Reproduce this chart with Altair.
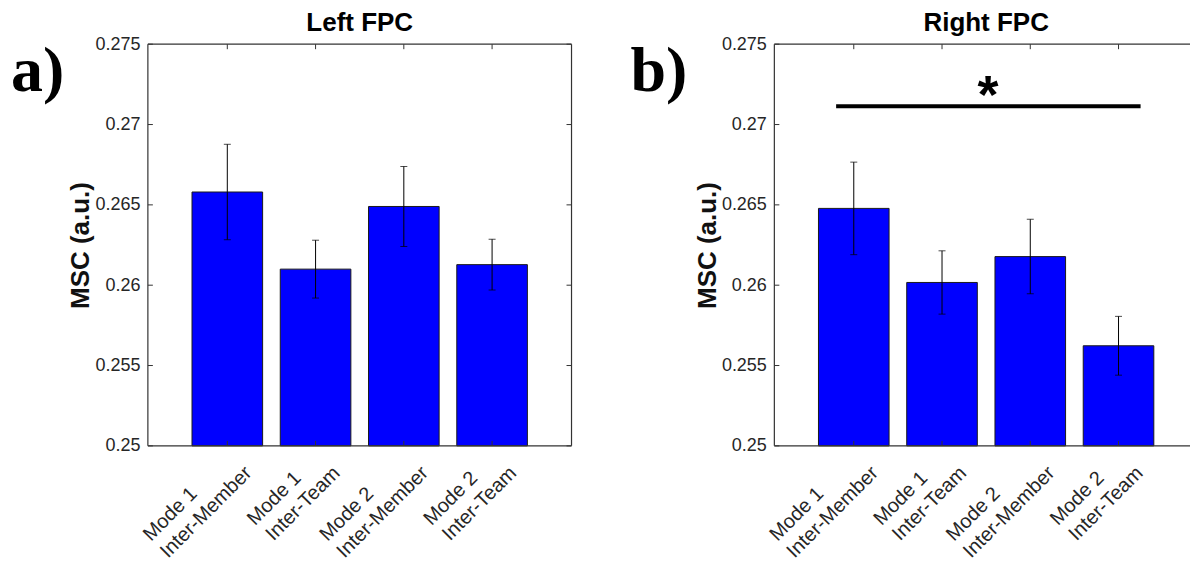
import altair as alt
import pandas as pd

# ---------------- data ----------------
positions = [1, 2, 3, 4]
label_line1 = ["Mode 1", "Mode 1", "Mode 2", "Mode 2"]
label_line2 = ["Inter-Member", "Inter-Team", "Inter-Member", "Inter-Team"]
left_means = [0.2658, 0.2610, 0.2649, 0.26128]
left_sem = [0.00297, 0.0018, 0.00249, 0.00158]
right_means = [0.26478, 0.26017, 0.26178, 0.25623]
right_sem = [0.00288, 0.00197, 0.00232, 0.00183]
y_domain = [0.25, 0.275]
y_ticks = [0.25, 0.255, 0.26, 0.265, 0.27, 0.275]
panel_titles = ["Left FPC", "Right FPC"]
panel_letters = ["a)", "b)"]
y_title = "MSC (a.u.)"
sig_bar_x = [0.8, 4.25]
sig_bar_y = [0.27114]
sig_star_x = [2.52]
sig_text = ["*"]

# ---------------- style / layout ----------------
FONT = "Liberation Sans"
SERIF = "Liberation Serif"
PH = 402
LEFT_W, RIGHT_W = 424, 416
X_DOM_LEFT = [0.1, 4.9]
X_DOM_RIGHT = [0.1, 4.81]
AXIS_COLOR = "#333333"
TEXT_COLOR = "#262626"
XLAB_FS = 20

# Arial / Liberation Sans advance widths (per 1000 em) for label layout
CHAR_W = {"I": 278, "n": 556, "t": 278, "e": 556, "r": 333, "-": 333, "M": 833,
          "m": 833, "b": 556, "T": 611, "a": 556, "o": 556, "d": 556, " ": 278,
          "1": 556, "2": 556}


def text_width(s, fs):
    return sum(CHAR_W.get(c, 556) for c in s) / 1000.0 * fs


def y_axis():
    return alt.Axis(
        values=y_ticks, format="~g", domain=False, ticks=False, tickSize=0,
        grid=False, labelFont=FONT, labelFontSize=18, labelColor=TEXT_COLOR,
        labelPadding=8, title=y_title, titleFont=FONT, titleFontSize=26,
        titleFontWeight="bold", titleColor="#111111", titleAngle=270,
        titleX=-67, titleY=PH / 2, titleAlign="center", titleBaseline="middle")


def panel(means, sems, title, letter, width, x_dom, right_edge, sig=False):
    starts = [-2 - max(text_width(a, XLAB_FS), text_width(b, XLAB_FS))
              for a, b in zip(label_line1, label_line2)]
    df = pd.DataFrame({"pos": positions, "value": means, "err": sems,
                       "line1": label_line1, "line2": label_line2, "start": starts})
    xs = alt.Scale(domain=x_dom, nice=False, zero=False)
    ys = alt.Scale(domain=y_domain, nice=False, zero=False)

    def Y(field):
        return alt.Y(field, scale=ys, axis=y_axis())

    def X(field):
        return alt.X(field, scale=xs, axis=None)

    base = alt.Chart(df).transform_calculate(
        xa="datum.pos - 0.4", xb="datum.pos + 0.4",
        lo="datum.value - datum.err", hi="datum.value + datum.err",
        base=str(y_domain[0]))

    bars = base.mark_bar(color="#0000FF", stroke="#1a1a1a", strokeWidth=1).encode(
        x=X("xa:Q"), x2="xb:Q", y=Y("value:Q"), y2="base:Q")
    err = base.mark_rule(color="black", strokeWidth=1).encode(
        x=X("pos:Q"), y=Y("lo:Q"), y2="hi:Q")
    cap_hi = base.mark_tick(orient="horizontal", size=7, thickness=1, color="black").encode(
        x=X("pos:Q"), y=Y("hi:Q"))
    cap_lo = base.mark_tick(orient="horizontal", size=7, thickness=1, color="black").encode(
        x=X("pos:Q"), y=Y("lo:Q"))

    # inward tick marks
    tdf = pd.DataFrame({"t": y_ticks})
    ytick_l = alt.Chart(tdf).mark_rule(color=AXIS_COLOR, strokeWidth=1).encode(
        y=Y("t:Q"), x=alt.value(0), x2=alt.value(5))
    xtick_b = base.mark_rule(color=AXIS_COLOR, strokeWidth=1).encode(
        x=X("pos:Q"), y=alt.value(PH), y2=alt.value(PH - 5))
    xtick_t = base.mark_rule(color=AXIS_COLOR, strokeWidth=1).encode(
        x=X("pos:Q"), y=alt.value(0), y2=alt.value(5))

    one = pd.DataFrame({"k": [0]})
    box = [
        alt.Chart(one).mark_rule(color=AXIS_COLOR, strokeWidth=1.2).encode(
            x=alt.value(0), y=alt.value(0), y2=alt.value(PH)),
        alt.Chart(one).mark_rule(color=AXIS_COLOR, strokeWidth=1.2).encode(
            x=alt.value(0), x2=alt.value(width), y=alt.value(PH)),
        alt.Chart(one).mark_rule(color=AXIS_COLOR, strokeWidth=1.2).encode(
            x=alt.value(0), x2=alt.value(width), y=alt.value(0)),
    ]
    extra = []
    if right_edge:
        box.append(alt.Chart(one).mark_rule(color=AXIS_COLOR, strokeWidth=1.2).encode(
            x=alt.value(width), y=alt.value(0), y2=alt.value(PH)))
        extra.append(alt.Chart(tdf).mark_rule(color=AXIS_COLOR, strokeWidth=1).encode(
            y=Y("t:Q"), x=alt.value(width - 5), x2=alt.value(width)))

    # rotated two-line category labels
    lab2 = base.mark_text(angle=315, align="right", baseline="alphabetic", dx=-2, dy=38,
                          font=FONT, fontSize=XLAB_FS, color=TEXT_COLOR).encode(
        x=X("pos:Q"), y=alt.value(PH), text="line2:N")
    lab1 = base.mark_text(angle=315, align="left", baseline="alphabetic",
                          dx=alt.ExprRef(expr="datum.start"), dy=14,
                          font=FONT, fontSize=XLAB_FS, color=TEXT_COLOR).encode(
        x=X("pos:Q"), y=alt.value(PH), text="line1:N")

    ttl = alt.Chart(pd.DataFrame({"t": [title]})).mark_text(
        font=FONT, fontSize=26, fontWeight="bold", align="center", baseline="alphabetic",
        color="black").encode(text="t:N", x=alt.value(212), y=alt.value(-13))
    let_x = -137 if not sig else -144
    let = alt.Chart(pd.DataFrame({"t": [letter]})).mark_text(
        font=SERIF, fontSize=64, fontWeight="bold", align="left", baseline="alphabetic",
        color="black").encode(text="t:N", x=alt.value(let_x), y=alt.value(47))

    layers = [bars, err, cap_hi, cap_lo, ytick_l, xtick_b, xtick_t] + extra + box + [lab2, lab1, ttl, let]

    if sig:
        sdf = pd.DataFrame({"xa": [sig_bar_x[0]], "xb": [sig_bar_x[1]], "y": sig_bar_y,
                            "sx": sig_star_x, "s": sig_text})
        sline = alt.Chart(sdf).mark_rule(color="black", strokeWidth=4).encode(
            x=X("xa:Q"), x2="xb:Q", y=Y("y:Q"))
        star = alt.Chart(sdf).mark_text(font=FONT, fontSize=54, fontWeight="bold",
                                        align="center", baseline="alphabetic", dy=7,
                                        color="black").encode(
            x=X("sx:Q"), y=Y("y:Q"), text="s:N")
        layers += [sline, star]
    else:
        spacer = alt.Chart(one).mark_rule(strokeOpacity=0, color="white").encode(
            x=alt.value(-148), x2=alt.value(-148), y=alt.value(-44), y2=alt.value(-40))
        layers.append(spacer)

    return alt.layer(*layers).properties(width=width, height=PH)


left = panel(left_means, left_sem, panel_titles[0], panel_letters[0], LEFT_W, X_DOM_LEFT, True)
right = panel(right_means, right_sem, panel_titles[1], panel_letters[1], RIGHT_W, X_DOM_RIGHT, False, sig=True)

chart = alt.hconcat(left, right, spacing=203, bounds="flush").properties(
    padding={"left": 0, "top": 0, "right": 0, "bottom": 0},
    background="white",
).configure_view(stroke=None)

chart.save("out.html", embed_options={"renderer": "svg", "actions": False})
